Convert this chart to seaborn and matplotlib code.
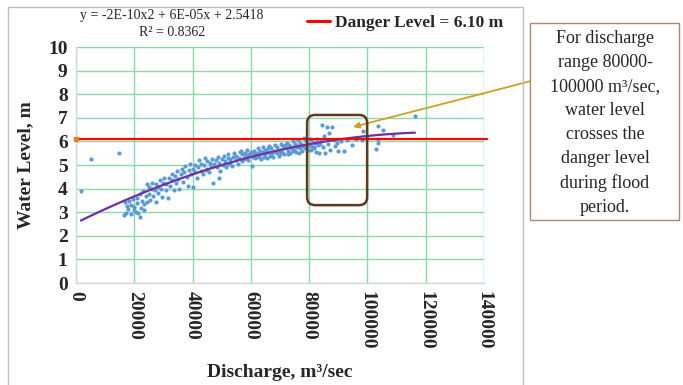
import matplotlib
matplotlib.use("Agg")
import matplotlib.pyplot as plt
import seaborn as sns
import pandas as pd
from matplotlib.patches import FancyBboxPatch, Rectangle
from matplotlib.lines import Line2D

# ---------------- data ----------------
discharge = [
    1700, 5000, 14900,
    16500, 16800, 17200, 17500, 18000, 18300, 18800, 19000, 19500, 19800,
    20000, 20500, 20800, 21000, 21300, 21800, 22000, 22200, 22500, 23000,
    23200, 23500, 24000, 24300, 24500, 25000, 25200, 25500, 26000, 26200,
    26500, 27000, 27300, 27500, 28000, 28300, 28800, 29000, 29500, 30000,
    30300, 30800, 31000, 31500, 32000, 32300, 32800, 33000, 33500, 34000,
    34300, 34800, 35000, 35500, 36000, 36300, 36800, 37000, 37500, 38000,
    38300, 38800, 39000, 39500, 40000, 40300, 40800, 41000, 41500, 42000,
    42300, 42800, 43000, 43500, 44000, 44300, 44800, 45000, 45500, 46000,
    46300, 46800, 47000, 47500, 48000, 48300, 48800, 48900, 49000, 49500,
    50000, 50300, 50800, 51000, 51500, 52000, 52300, 52800, 53000, 53500,
    54000, 54300, 54800, 55000, 55500, 56000, 56300, 56800, 57000, 57500,
    58000, 58300, 58800, 59000, 59500, 60000, 60300, 60800, 61000, 61500,
    62000, 62300, 62800, 63000, 63500, 64000, 64300, 64800, 65000, 65500,
    66000, 66300, 66800, 67000, 67500, 68000, 68300, 68800, 69000, 69500,
    70000, 70300, 70800, 71000, 71500, 72000, 72300, 72800, 73000, 73500,
    74000, 74300, 74800, 75000, 75500, 76000, 76300, 76800, 77000, 77500,
    78000, 78300, 78800, 79000, 79500, 80000, 80300, 80800, 81000, 81500,
    82000, 82300, 82800, 83000, 83500, 84000, 84300, 84800, 85000, 85500,
    86000, 86300, 86800, 87000, 88000, 88500, 89000, 89500, 90000, 91000,
    92000, 93000, 94600, 96000, 98000, 98400, 100000, 103000, 103500,
    103500, 103600, 105500, 108900, 116300,
    56500, 58500, 61200, 63800, 65800, 67800, 69800, 71800, 73800, 75800,
    77800, 79800, 81800, 83800, 62500, 66500, 70500, 74500, 78500, 44500,
    52500, 57800, 64600, 72600, 76600, 80600,
]
water_level = [
    3.90, 5.25, 5.52,
    2.90, 3.45, 2.98, 3.28, 3.12, 3.48, 2.92, 3.32, 3.58, 3.08,
    3.22, 3.02, 3.62, 3.38, 2.95, 3.78, 2.80, 3.18, 3.48, 3.88,
    3.33, 3.10, 3.68, 4.18, 3.43, 3.78, 4.08, 3.53, 4.00, 4.25,
    3.68, 3.93, 4.18, 3.45, 4.08, 3.80, 4.35, 4.00, 3.65, 4.25,
    4.45, 3.95, 4.18, 3.60, 4.45, 4.10, 4.60, 4.35, 3.95, 4.55,
    4.25, 4.75, 4.40, 4.00, 4.60, 4.85, 4.30, 4.70, 4.95, 4.50,
    4.10, 4.80, 5.05, 4.60, 4.85, 4.05, 4.70, 5.00, 4.45, 4.90,
    5.20, 4.75, 5.05, 4.60, 5.00, 5.30, 4.85, 5.15, 4.70, 5.10,
    4.95, 5.25, 4.25, 5.05, 5.20, 4.90, 5.35, 4.44, 5.10, 4.75,
    5.25, 5.00, 5.40, 5.15, 4.90, 5.30, 5.45, 5.10, 5.25, 4.95,
    5.35, 5.50, 5.20, 5.40, 5.05, 5.30, 5.55, 5.15, 5.45, 5.25,
    5.50, 5.35, 5.65, 5.20, 5.45, 5.55, 4.95, 5.35, 5.60, 5.30,
    5.50, 5.70, 5.40, 5.60, 5.25, 5.55, 5.75, 5.45, 5.65, 5.30,
    5.55, 5.80, 5.45, 5.70, 5.35, 5.60, 5.85, 5.50, 5.75, 5.40,
    5.65, 5.90, 5.55, 5.80, 5.45, 5.70, 5.95, 5.60, 5.85, 5.50,
    5.75, 6.00, 5.65, 5.90, 5.55, 5.80, 6.05, 5.70, 5.95, 5.60,
    5.85, 6.15, 5.75, 6.00, 5.65, 5.90, 6.10, 5.80, 6.05, 5.70,
    5.95, 5.55, 6.10, 5.85, 5.50, 6.00, 6.70, 5.75, 6.25, 5.50,
    6.60, 5.90, 6.35, 5.65, 6.62, 6.05, 5.80, 5.92, 5.60, 6.00,
    5.58, 6.05, 5.85, 6.10, 6.06, 6.44, 6.15, 5.68, 5.94,
    6.65, 6.10, 6.48, 6.27, 7.09,
    5.60, 5.40, 5.45, 5.50, 5.70, 5.55, 5.60, 5.85, 5.70, 5.75,
    5.80, 5.85, 5.75, 5.90, 5.35, 5.40, 5.50, 5.60, 5.70, 4.80,
    5.05, 5.30, 5.35, 5.45, 5.50, 5.65,
]

danger_discharge = [0, 141000]
danger_level = [6.10, 6.10]

x_ticks = [0, 20000, 40000, 60000, 80000, 100000, 120000, 140000]
y_ticks = [0, 1, 2, 3, 4, 5, 6, 7, 8, 9, 10]

df = pd.DataFrame({"Discharge": discharge, "WaterLevel": water_level})

# ---------------- styling ----------------
sns.set_theme(style="white")
plt.rcParams["font.family"] = ["Liberation Serif", "DejaVu Serif"]

fig = plt.figure(figsize=(6.83, 3.85), dpi=100)
ax = fig.add_axes([76 / 683, 1 - 283 / 385, (484 - 76) / 683, (283 - 47) / 385])

grid_green = "#8ad9a6"
ax.set_xlim(0, 140000)
ax.set_ylim(0, 10)
ax.set_xticks(x_ticks)
ax.set_yticks(y_ticks)
ax.grid(True, color=grid_green, linewidth=1.0)
ax.set_axisbelow(True)
for s in ["top", "right"]:
    ax.spines[s].set_visible(False)
for s in ["left", "bottom"]:
    ax.spines[s].set_color("#d9d9d9")
    ax.spines[s].set_linewidth(1.0)
ax.tick_params(length=0, pad=6)

ax.set_xticklabels([str(v) for v in x_ticks], rotation=-90, va="top",
                   ha="center", fontsize=14, fontweight="bold")
ax.set_yticklabels([str(v) for v in y_ticks], fontsize=14, fontweight="bold")

# scatter
sns.scatterplot(data=df, x="Discharge", y="WaterLevel", ax=ax, color="#5b9bd5",
                s=9, linewidth=0, zorder=3, legend=False)
# polynomial trendline
sns.regplot(data=df, x="Discharge", y="WaterLevel", ax=ax, order=2, ci=None,
            scatter=False, truncate=True,
            line_kws=dict(color="#7030a0", linewidth=1.6, zorder=4))

# danger level
ax.plot(danger_discharge, danger_level, color="#ff0000", linewidth=1.6,
        zorder=5, clip_on=False)
ax.plot(danger_discharge[:1], danger_level[:1], marker="s", markersize=3,
        color="#ed7d31", linestyle="none", zorder=6, clip_on=False)

ax.set_xlabel("Discharge, m³/sec", fontsize=14, fontweight="bold", labelpad=10)
ax.set_ylabel("Water Level, m", fontsize=14, fontweight="bold", labelpad=10)

# highlight box 80000-100000
sx = 140000 / 408.0
sy = 10 / 236.0
box = FancyBboxPatch((79300, 3.3), 20600, 3.82,
                     boxstyle="round,pad=0,rounding_size=%f" % (8 * sx),
                     mutation_aspect=sy / sx, facecolor="none",
                     edgecolor="#5b3a1f", linewidth=1.8, zorder=7)
ax.add_patch(box)

# legend
handle = Line2D([], [], color="#ff0000", linewidth=2.2)
fig.legend([handle], ["Danger Level = 6.10 m"], loc="center",
           bbox_to_anchor=(405 / 683, 1 - 23 / 385), frameon=False,
           prop=dict(size=12.5, weight="bold"), handlelength=1.3,
           handletextpad=0.3)

# trendline equation
fig.text(172 / 683, 1 - 16 / 385, "y = -2E-10x2 + 6E-05x + 2.5418",
         ha="center", va="center", fontsize=10)
fig.text(172 / 683, 1 - 33 / 385, "R² = 0.8362", ha="center", va="center",
         fontsize=10)

# outer chart frame
fig.patches.append(Rectangle((8 / 683, -0.02), (523 - 8) / 683, 1.02 - 7 / 385,
                             transform=fig.transFigure, facecolor="none",
                             edgecolor="#bfbfbf", linewidth=1.0))

# callout box
fig.patches.append(Rectangle((530 / 683, 1 - 220 / 385), (679 - 530) / 683,
                             (220 - 23) / 385, transform=fig.transFigure,
                             facecolor="white", edgecolor="#a58a7a",
                             linewidth=1.0))
fig.text(605 / 683, 1 - 123 / 385,
         "For discharge\nrange 80000-\n100000 m³/sec,\nwater level\ncrosses the\n"
         "danger level\nduring flood\nperiod.",
         ha="center", va="center", fontsize=13, linespacing=1.53)

# arrow from callout to highlighted region
ax.annotate("", xy=(353, 385 - 127), xycoords="figure pixels",
            xytext=(539, 385 - 79), textcoords="figure pixels",
            arrowprops=dict(arrowstyle="-|>", color="#c9a227", lw=1.3,
                            mutation_scale=9, shrinkA=0, shrinkB=0),
            annotation_clip=False)

fig.savefig("out.png", dpi=100)
